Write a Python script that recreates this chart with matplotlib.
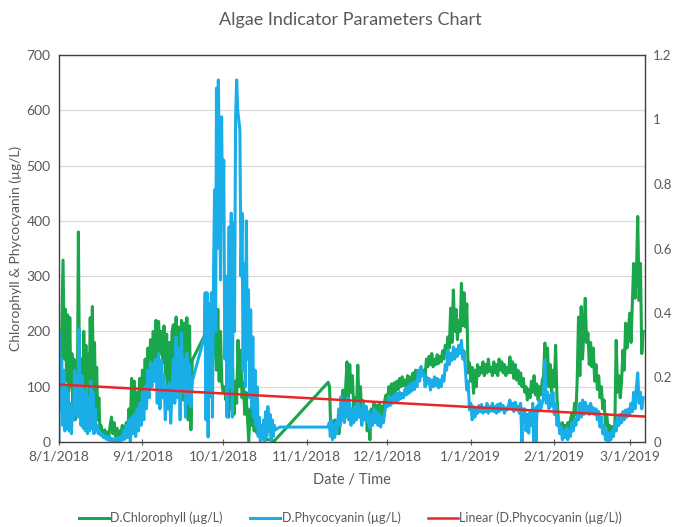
import pandas as pd
import matplotlib
matplotlib.use("Agg")
import matplotlib.pyplot as plt
import matplotlib.dates as mdates
from matplotlib.ticker import FuncFormatter

plt.rcParams['font.family'] = ['Lato', 'DejaVu Sans']

start = pd.Timestamp("2018-08-01")

# D.Chlorophyll (ug/L), days since 8/1/2018
chl_days = [0, 0.5, 1.0, 1.5, 2.0, 2.4, 2.8, 3.2, 3.6, 4.0, 4.4, 4.8, 5.2, 5.6, 6.0, 6.4, 6.8,
            7.2, 7.6, 8.0, 8.4, 8.8, 9.2, 9.6, 10.0, 10.4, 10.8, 11.2, 11.6, 12.0, 12.4, 12.8,
            13.2, 13.6, 14.0, 14.4, 14.8, 15.2, 15.6,
            16, 16.5, 17, 17.5, 18, 18.5, 19, 19.5, 20, 20.5, 21, 21.5, 22, 22.5, 23, 23.5,
            24, 24.5, 25, 25.5, 26, 26.5, 27, 27.5, 28, 28.5, 29, 29.5, 30, 30.5, 31, 31.5,
            32, 32.5, 33, 33.5, 34, 34.5, 35, 35.5, 36, 36.5, 37, 37.5, 38,
            38.5, 39, 39.5, 40, 40.5, 41, 41.5, 42, 42.5, 43, 43.5, 44, 44.5, 45, 45.5, 46,
            46.5, 47, 47.5, 48, 48.5, 49, 49.5, 54.5, 55, 55.5, 56, 56.5, 57, 57.5, 58, 58.5,
            59, 59.5, 60, 60.5, 61, 61.5, 62, 62.5, 63, 63.5, 64, 64.5, 65, 65.5, 66, 66.5,
            67, 67.5, 68, 68.5, 69, 69.5, 70, 70.5, 71, 71.5, 72, 72.5, 73, 73.5, 74, 74.5,
            75, 77, 80, 100, 100.5, 101, 101.5, 102, 102.5, 103, 103.5, 104, 104.5, 105,
            105.5, 106, 106.5, 107, 107.5, 108, 108.5, 109, 109.5, 110, 110.5, 111, 111.5,
            112, 112.5, 113, 113.5, 114, 114.5, 115, 115.5, 116, 116.5, 117, 117.5, 118,
            118.5, 119, 119.5, 120, 120.5, 121,
            121.5, 122, 122.5, 123, 123.5, 124, 124.5, 125, 125.5, 126, 126.5, 127, 127.5,
            128, 128.5, 129, 129.5, 130, 130.5, 131, 131.5, 132, 132.5, 133, 133.5, 134,
            134.5, 135, 135.5, 136, 136.5, 137, 137.5, 138, 138.5, 139, 139.5, 140, 140.5,
            141, 141.5, 142, 142.5, 143, 143.5, 144, 144.5, 145, 145.5, 146, 146.5, 147,
            147.5, 148, 148.5, 149, 149.5, 150, 150.5, 151, 151.5, 152, 152.5, 153, 153.5,
            154, 154.5, 155, 155.5, 156, 156.5, 157, 157.5, 158, 158.5, 159, 159.5, 160,
            160.5, 161, 161.5, 162, 162.5, 163, 163.5, 164, 164.5, 165, 165.5, 166, 166.5,
            167, 167.5, 168, 168.5, 169, 169.5, 170, 170.5, 171, 171.5, 172, 172.5, 173,
            173.5, 174, 174.5, 175, 175.5, 176, 176.5, 177, 177.5, 178, 178.5, 179, 179.5,
            180, 180.5, 181, 181.5, 182, 182.5, 183, 183.5, 184, 184.5, 185, 185.5, 186,
            186.5, 187, 187.5, 188, 188.5, 189, 189.5, 190, 190.5, 191, 191.5, 192, 192.5,
            193, 193.5, 194, 194.5, 195, 195.5, 196, 196.5, 197, 197.5, 198, 198.5, 199,
            199.5, 200, 200.5, 201, 201.5, 202, 202.5, 203, 203.5, 204, 204.5, 205, 205.5,
            206, 206.5, 207, 207.5, 208, 208.5, 209, 209.5, 210, 210.5, 211, 211.5, 212,
            212.5, 213, 213.5, 214, 214.5, 215, 215.5, 216, 216.5, 217]
chl_vals = [120, 60, 200, 329, 150, 240, 110, 230, 90, 225, 100, 160, 60, 150, 40, 120, 60,
            380, 120, 45, 150, 90, 200, 80, 175, 90, 160, 85, 225, 110, 245, 95,
            180, 60, 135, 40, 80, 25, 30,
            20, 15, 22, 12, 18, 10, 30, 45, 15, 35, 10, 25, 8, 20, 12, 30,
            15, 25, 35, 20, 60, 30, 115, 50, 110, 40, 90, 60, 115, 75, 130, 70,
            150, 90, 170, 100, 185, 120, 200, 150, 220, 140, 218, 160, 200,
            143, 210, 120, 195, 60, 180, 90, 200, 212, 120, 226, 160, 208, 107, 220, 76,
            215, 120, 225, 40, 210, 22, 148, 197, 150, 190, 107, 239, 120, 200, 262, 130,
            240, 110, 200, 107, 90, 100, 76, 135, 45, 120, 60, 135, 50, 110, 70, 184,
            100, 166, 80, 107, 50, 90, 45, 0, 60, 30, 70, 20, 50, 16, 40, 20,
            15, 5, 2, 108, 100, 16, 30, 20, 40, 25, 30, 15, 35, 60,
            94, 40, 100, 145, 70, 140, 90, 120, 60, 80, 50, 139, 60,
            100, 45, 75, 40, 64, 20, 50, 4, 60, 35, 70, 45, 66,
            50, 70, 46, 65, 50, 75,
            85, 65, 100, 82, 105, 85, 107, 90, 110, 95, 115, 100, 118,
            102, 112, 100, 120, 105, 118, 102, 125, 110, 130, 118, 128, 120,
            136, 122, 130, 118, 150, 136, 155, 140, 160, 136, 150, 140, 158,
            142, 155, 145, 165, 150, 175, 166, 190, 170, 242, 180, 275, 200,
            240, 185, 220, 200, 287, 210, 270, 208, 250, 125, 143, 110, 135,
            88, 130, 100, 140, 120, 135, 125, 145, 120, 140, 125, 150, 128,
            135, 120, 145, 125, 140, 120, 150, 130, 145, 125, 140, 120, 135,
            125, 154, 125, 145, 115, 140, 112, 130, 105, 125, 100, 115, 90,
            100, 76, 95, 80, 110, 90, 120, 85, 105, 76, 100, 85, 110,
            120, 179, 110, 170, 100, 140, 90, 130, 100, 175, 80, 40, 30,
            25, 35, 16, 30, 20, 35, 25, 40, 50, 35, 70, 50, 110,
            226, 120, 245, 150, 200, 260, 180, 197, 140, 180, 136, 170, 110,
            140, 95, 120, 80, 100, 60, 76, 30, 50, 20, 30, 16, 28,
            20, 30, 184, 90, 120, 80, 110, 166, 130, 215, 170, 200, 233,
            180, 250, 323, 260, 300, 408, 256, 323, 160, 200]

# D.Phycocyanin (ug/L), days since 8/1/2018
pc_days = [0, 0.2, 0.6, 1.0, 1.4, 1.8, 2.2, 2.6, 3.0, 3.4, 3.8, 4.2, 4.6, 5.0, 5.4, 5.8, 6.2,
           6.6, 7.0, 7.4, 7.8, 8.2, 8.6, 9.0, 9.4, 9.8, 10.2, 10.6, 11.0, 11.4, 11.8, 12.2,
           12.6, 13.0, 13.4, 13.8, 14.2, 14.6,
           15, 15.5, 16, 16.5, 17, 17.5, 18, 18.5, 19, 19.5, 20, 20.5, 21, 21.5, 22, 22.5,
           23, 23.5, 24, 24.5, 25, 25.5, 26, 26.5, 27, 27.5, 28, 28.5, 29, 29.5, 30, 30.5,
           31, 31.5, 32, 32.5, 33, 33.5, 34, 34.5, 35, 35.5, 36, 36.5, 37, 37.5, 38, 38.5,
           39, 39.5, 40, 40.5, 41, 41.5, 42, 42.5, 43, 43.5, 44, 44.5, 45, 45.5, 46, 46.5,
           47, 47.5, 48, 48.5, 49, 49.5, 54, 54.3, 54.6, 55, 55.4, 55.8, 56.2, 56.6, 57,
           57.4, 57.8, 58.2, 58.5, 58.8, 59.2, 59.6, 60, 60.4, 60.8, 61.2, 61.6, 62, 62.4,
           62.8, 63.2, 63.6, 64, 64.4, 64.8, 65.2, 65.6, 66, 66.4, 66.8, 67.2, 67.6, 68,
           68.4, 68.8, 69.2, 69.6, 70, 70.4, 70.8, 71.2, 71.6, 72, 72.4, 72.8, 73.2, 73.6,
           74, 74.4, 74.8, 75.2, 75.6, 76, 76.4, 76.8, 77.2, 77.6, 78, 78.4, 78.8, 79.2,
           79.6, 80, 80.5, 82, 100, 100.4, 100.8, 101.2, 101.6, 102, 102.4, 102.8, 103.2,
           103.6, 104, 104.4, 104.8, 105.2, 105.6, 106, 106.4, 106.8, 107.2, 107.6, 108,
           108.5, 109, 109.5, 110, 110.5, 111, 111.5, 112, 112.5, 113, 113.5, 114, 114.5,
           115, 115.5, 116, 116.5, 117, 117.5, 118, 118.5, 119, 119.5, 120, 120.5, 121,
           121.5, 122, 122.5, 123, 123.5, 124, 124.5, 125, 125.5, 126, 126.5, 127, 127.5,
           128, 128.5, 129, 129.5, 130, 130.5, 131, 131.5, 132, 132.5, 133, 133.5, 134,
           134.5, 135, 135.5, 136, 136.5, 137, 137.5, 138, 138.5, 139, 139.5, 140, 140.5,
           141, 141.5, 142, 142.5, 143, 143.5, 144, 144.5, 145, 145.5, 146, 146.5, 147,
           147.5, 148, 148.5, 149, 149.5, 150, 150.5, 151, 151.5, 152, 152.5, 153, 153.5,
           154, 154.5, 155, 155.5, 156, 156.5, 157, 157.5, 158, 158.5, 159, 159.5, 160,
           160.5, 161, 161.5, 162, 162.5, 163, 163.5, 164, 164.5, 165, 165.5, 166, 166.5,
           167, 167.5, 168, 168.5, 169, 169.5, 170, 170.5, 171, 171.5, 172, 172.3, 172.8,
           173, 173.5, 174, 174.5, 175, 175.5, 176, 176.3, 176.8, 177.2, 177.6, 178, 178.5,
           179, 179.5, 180, 180.5, 181, 181.5, 182, 182.5, 183, 183.5, 184, 184.5, 185,
           185.5, 186, 186.5, 187, 187.5, 188, 188.5, 189, 189.5, 190, 190.5, 191, 191.5,
           192, 192.5, 193, 193.5, 194, 194.5, 195, 195.5, 196, 196.5, 197, 197.5, 198,
           198.5, 199, 199.5, 200, 200.5, 201, 201.5, 202, 202.5, 203, 203.5, 204, 204.5,
           205, 205.5, 206, 206.5, 207, 207.5, 208, 208.5, 209, 209.5, 210, 210.5, 211,
           211.5, 212, 212.5, 213, 213.5, 214, 214.5, 215, 215.5, 216, 216.5, 217]
pc_vals = [0, 197, 60, 150, 30, 130, 20, 100, 25, 90, 20, 70, 15, 60, 40, 130, 50,
           120, 45, 205, 60, 30, 120, 25, 90, 20, 100, 15, 80, 20, 110, 25,
           90, 15, 60, 20, 30, 15,
           20, 12, 15, 8, 12, 5, 10, 3, 8, 2, 6, 0, 5, 2, 8, 0,
           10, 3, 20, 5, 30, 8, 40, 0, 45, 15, 50, 10, 60, 20, 70, 30,
           90, 40, 100, 60, 130, 80, 145, 100, 140, 110, 150, 70, 160, 60, 148, 80,
           120, 40, 100, 60, 107, 34, 90, 150, 70, 190, 80, 170, 40, 197, 90, 150,
           45, 160, 70, 140, 64, 110, 190, 270, 40, 270, 9, 250, 82, 270, 45,
           300, 456, 200, 640, 350, 655, 500, 293, 588, 400, 510, 150, 300, 45,
           166, 389, 100, 414, 45, 396, 200, 582, 655, 600, 582, 564, 300, 414,
           130, 323, 100, 400, 150, 275, 80, 239, 60, 190, 45, 130, 30, 100,
           10, 45, 0, 30, 5, 40, 0, 55, 10, 64, 20, 50, 4, 40,
           10, 30, 22, 27, 27, 35, 10, 40, 4, 30, 8, 35, 15,
           40, 60, 30, 82, 40, 70, 35, 75, 45, 80, 40, 70,
           30, 60, 35, 65, 40, 75, 45, 60, 30, 70, 40, 65, 35,
           55, 25, 50, 30, 60, 35, 55, 30, 50, 27, 45, 35, 52,
           70, 64, 82, 66, 80, 70, 85, 72, 88, 75, 90, 78, 88,
           80, 95, 85, 100, 88, 105, 92, 107, 95, 110, 100, 130, 110,
           136, 120, 125, 100, 118, 105, 115, 94, 112, 100, 118, 102, 115,
           98, 112, 100, 120, 110, 140, 130, 166, 140, 160, 148, 172, 150,
           168, 155, 175, 160, 184, 150, 165, 130, 94, 110, 58, 70, 40,
           64, 45, 60, 52, 66, 55, 68, 52, 62, 55, 70, 52, 64,
           56, 70, 55, 65, 52, 68, 55, 70, 58, 66, 52, 62, 58,
           66, 76, 60, 70, 55, 72, 58, 65, 52, 70, 0, 60, 40,
           60, 20, 50, 16, 55, 30, 70, 0, 60, 0, 65, 55, 76,
           60, 70, 80, 148, 70, 90, 60, 85, 65, 90, 50, 70, 30,
           45, 15, 27, 4, 20, 8, 25, 4, 22, 10, 35, 20, 40,
           30, 50, 40, 70, 45, 76, 50, 72, 55, 65, 50, 70, 55,
           62, 50, 60, 40, 55, 27, 45, 15, 30, 4, 20, 0, 15,
           4, 20, 10, 35, 20, 45, 30, 50, 35, 55, 40, 58, 45,
           60, 50, 70, 55, 90, 60, 100, 125, 70, 90, 60, 80]

# Linear trendline of D.Phycocyanin (end points)
trend_days = [0, 217.7]
trend_vals = [104, 46]

chl_dates = start + pd.to_timedelta(chl_days, unit="D")
pc_dates = start + pd.to_timedelta(pc_days, unit="D")
trend_dates = start + pd.to_timedelta(trend_days, unit="D")

green = "#1aa64a"
blue = "#1aaee8"
red = "#e8262a"
grey = "#595959"

fig = plt.figure(figsize=(6.74, 5.27), dpi=100)
ax = fig.add_axes([59 / 674, 1 - 442 / 527, (645 - 59) / 674, (442 - 55) / 527])

ax.plot(chl_dates, chl_vals, color=green, lw=2.2, label="D.Chlorophyll (\u00b5g/L)")
ax.plot(pc_dates, pc_vals, color=blue, lw=2.2, label="D.Phycocyanin (\u00b5g/L)")
ax.plot(trend_dates, trend_vals, color=red, lw=1.8, label="Linear (D.Phycocyanin (\u00b5g/L))")

ax.set_ylim(0, 700)
ax.set_yticks(range(0, 701, 100))
ax.set_xlim(start, start + pd.Timedelta(days=217.7))
tick_dates = pd.to_datetime(["2018-08-01", "2018-09-01", "2018-10-01", "2018-11-01",
                             "2018-12-01", "2019-01-01", "2019-02-01", "2019-03-01"])
ax.set_xticks(tick_dates)
ax.xaxis.set_major_formatter(FuncFormatter(
    lambda x, pos: "{d.month}/{d.day}/{d.year}".format(d=mdates.num2date(x))))

ax.grid(axis="y", color="#d9d9d9", lw=0.9)
ax.set_axisbelow(True)
for s in ax.spines.values():
    s.set_color("#404040")
    s.set_linewidth(1.0)
ax.tick_params(axis="y", length=0, labelsize=10, colors=grey, pad=6)
ax.tick_params(axis="x", length=4, direction="inout", labelsize=10, colors=grey, pad=4)

ax2 = ax.twinx()
ax2.set_ylim(0, 1.2)
ax2.set_yticks([0, 0.2, 0.4, 0.6, 0.8, 1.0, 1.2])
ax2.set_yticklabels(["0", "0.2", "0.4", "0.6", "0.8", "1", "1.2"])
ax2.tick_params(axis="y", length=0, labelsize=9.5, colors=grey, pad=6)
for s in ax2.spines.values():
    s.set_visible(False)

ax.set_ylabel("Chlorophyll & Phycocyanin (\u00b5g/L)", fontsize=10, color=grey, labelpad=3)
ax.set_xlabel("Date / Time", fontsize=10.5, color=grey, labelpad=8)
fig.text(0.52, 0.962, "Algae Indicator Parameters Chart", ha="center", va="center",
         fontsize=13, color=grey)

fig.legend(loc="lower center", bbox_to_anchor=(0.52, -0.016), ncol=3, frameon=False,
           fontsize=9, handlelength=2.4, columnspacing=2.2, handletextpad=0.1,
           labelcolor=grey)

fig.savefig("out.png", dpi=100)
